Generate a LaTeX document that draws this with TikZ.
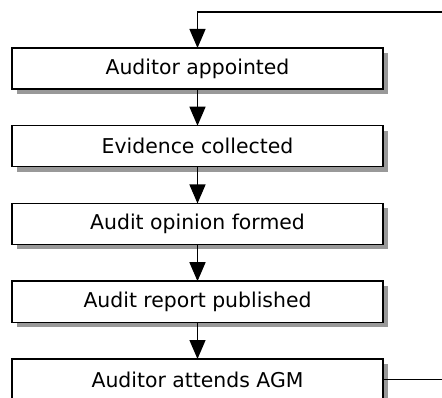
\documentclass[tikz,border=0pt]{standalone}
\usepackage{fontspec}
\setmainfont{DejaVu Sans}
\usetikzlibrary{arrows.meta, positioning, shadows}
\tikzset{
  stage/.style={draw, line width=1.5pt, fill=white, minimum width=371pt, minimum height=41pt,
    inner sep=0pt, outer sep=0pt, font=\fontsize{20.4}{24}\selectfont,
    drop shadow={shadow xshift=5pt, shadow yshift=-5pt, fill=black!40, opacity=1}},
  arr/.style={-{Triangle[length=19pt, width=16pt]}, line width=1.2pt},
  link/.style={line width=1.2pt},
}
\begin{document}
\begin{tikzpicture}[x=1pt, y=-1pt]
    \useasboundingbox (0,0) rectangle (442,398);
    \foreach \i/\t in {1/Auditor appointed, 2/Evidence collected, 3/Audit opinion formed,
      4/Audit report published, 5/Auditor attends AGM} {
      \node[stage] (s\i) at (197.5, {68.5+77.75*(\i-1)}) {\t};
    }
    \foreach \i/\j in {1/2, 2/3, 3/4, 4/5}
      \draw[arr] (s\i.south) -- (s\j.north);
    % loop back from the AGM to the next appointment
    \coordinate (loopin) at (442,12);
    \coordinate (loopout) at (442,379.5);
    \draw[arr] (loopin) -| (s1.north);
    \draw[link] (s5.east) -- (loopout);
  \end{tikzpicture}
\end{document}
